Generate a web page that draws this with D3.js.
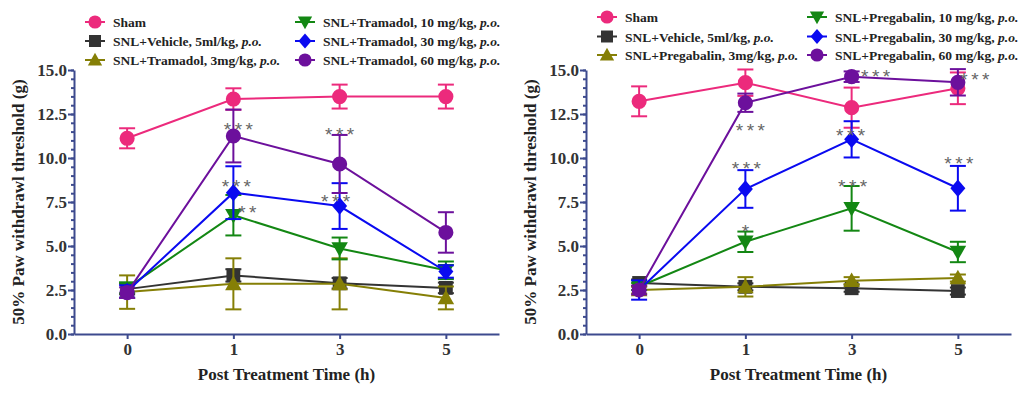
<!DOCTYPE html>
<html>
<head>
<meta charset="utf-8">
<script src="https://cdn.jsdelivr.net/npm/d3@7"></script>
<style>
  body { margin: 0; background: #fff; }
  svg { display: block; }
  .tick text { font-family: "Liberation Serif", "Times New Roman", serif; font-weight: bold; font-size: 17px; fill: #333; }
  .title { font-family: "Liberation Serif", "Times New Roman", serif; font-weight: bold; font-size: 17px; fill: #222; }
  .legend text { font-family: "Liberation Serif", "Times New Roman", serif; font-weight: bold; font-size: 13.5px; fill: #222; }
  .star { font-family: "Liberation Sans", Arial, sans-serif; font-size: 19px; fill: #666; letter-spacing: 3.5px; }
</style>
</head>
<body>
<div id="vis"></div>
<script>

var times = ["0", "1", "3", "5"];
var yTickValues = [0, 2.5, 5, 7.5, 10, 12.5, 15];

// series style per group (sham, vehicle, 3, 10, 30, 60)
var groupColors = ["#ec2a7c", "#333333", "#857f06", "#138713", "#0a0af0", "#6c109c"];
var groupShapes = ["circle", "square", "triUp", "triDown", "diamond", "circle"];

// Tramadol panel
var tramLabels = ["Sham", "SNL+Vehicle, 5ml/kg, ", "SNL+Tramadol, 3mg/kg, ",
  "SNL+Tramadol, 10 mg/kg, ", "SNL+Tramadol, 30 mg/kg, ", "SNL+Tramadol, 60 mg/kg, "];
var tramSham = [11.12, 13.35, 13.49, 13.49];
var tramShamErr = [0.57, 0.61, 0.68, 0.68];
var tramVehicle = [2.55, 3.33, 2.88, 2.62];
var tramVehicleErr = [0.3, 0.35, 0.3, 0.3];
var tram3 = [2.38, 2.85, 2.85, 2.05];
var tram3Err = [0.95, 1.45, 1.45, 0.65];
var tram10 = [2.62, 6.75, 4.86, 3.62];
var tram10Err = [0.3, 1.15, 0.62, 0.5];
var tram30 = [2.42, 8.03, 7.27, 3.55];
var tram30Err = [0.35, 1.5, 1.3, 0.35];
var tram60 = [2.35, 11.25, 9.66, 5.77];
var tram60Err = [0.3, 1.5, 1.65, 1.15];
// significance marks: [time index, value, text, x shift]
var tramStars = [[1, 11.9, "***", 5], [2, 11.6, "***", 0], [1, 8.65, "***", 3],
  [1, 7.16, "**", 14], [2, 7.8, "***", -4]];

// Pregabalin panel
var pregLabels = ["Sham", "SNL+Vehicle, 5ml/kg, ", "SNL+Pregabalin, 3mg/kg, ",
  "SNL+Pregabalin, 10 mg/kg, ", "SNL+Pregabalin, 30 mg/kg, ", "SNL+Pregabalin, 60 mg/kg, "];
var pregSham = [13.22, 14.28, 12.86, 13.96];
var pregShamErr = [0.85, 0.75, 1.14, 0.9];
var pregVehicle = [2.9, 2.68, 2.6, 2.44];
var pregVehicleErr = [0.2, 0.2, 0.2, 0.2];
var preg3 = [2.5, 2.68, 3.03, 3.18];
var preg3Err = [0.2, 0.55, 0.2, 0.2];
var preg10 = [2.7, 5.24, 7.14, 4.66];
var preg10Err = [0.2, 0.58, 1.27, 0.58];
var preg30 = [2.5, 8.24, 11.06, 8.28];
var preg30Err = [0.55, 1.07, 1.03, 1.27];
var preg60 = [2.5, 13.14, 14.62, 14.3];
var preg60Err = [0.25, 0.52, 0.3, 0.75];
var pregStars = [[2, 14.89, "***", 24], [3, 14.72, "***", 17], [1, 11.82, "***", 5],
  [2, 11.53, "***", -1], [1, 9.66, "***", 1], [3, 9.94, "***", 1],
  [2, 8.64, "***", 1], [1, 6.08, "*", 0]];

var axisColor = "#3d4a8e";

function symbolPath(shape, s) {
  if (shape === "circle") return d3.symbol(d3.symbolCircle, s * s * 0.8)();
  if (shape === "square") return d3.symbol(d3.symbolSquare, s * s * 0.85)();
  if (shape === "diamond") return "M0," + (-s * 0.58) + " L" + (s * 0.5) + ",0 L0," + (s * 0.58) + " L" + (-s * 0.5) + ",0 Z";
  if (shape === "triUp") return "M0," + (-s * 0.55) + " L" + (s * 0.55) + "," + (s * 0.42) + " L" + (-s * 0.55) + "," + (s * 0.42) + " Z";
  return "M0," + (s * 0.55) + " L" + (s * 0.55) + "," + (-s * 0.42) + " L" + (-s * 0.55) + "," + (-s * 0.42) + " Z";
}

function drawPanel(svg, p) {
  var x = d3.scaleLinear().domain([-0.5, 3.5]).range([p.left, p.left + 425]);
  var y = d3.scaleLinear().domain([0, 15]).range([334, 70]);
  var g = svg.append("g");

  // legend
  var leg = g.append("g").attr("class", "legend");
  p.labels.forEach(function(lab, i) {
    var col = Math.floor(i / 3), row = i % 3;
    var mx = p.left + 21 + col * 210;
    var my = p.legendY[row];
    var e = leg.append("g").attr("transform", "translate(" + mx + "," + my + ")");
    e.append("line").attr("x1", -10).attr("x2", 10)
      .attr("stroke", groupColors[i]).attr("stroke-width", 2);
    e.append("path").attr("d", symbolPath(groupShapes[i], 13)).attr("fill", groupColors[i]);
    var t = e.append("text").attr("x", 18).attr("y", 5).text(lab);
    if (i > 0) t.append("tspan").style("font-style", "italic").text("p.o.");
  });

  // axes
  var yMinor = d3.axisLeft(y).tickValues(d3.range(0, 15.01, 0.5)).tickSize(3).tickFormat("");
  g.append("g").attr("transform", "translate(" + p.left + ",0)").call(yMinor)
    .call(function(a) { a.select(".domain").remove(); a.selectAll("line").attr("stroke", axisColor).attr("stroke-width", 2); });
  var yAxis = d3.axisLeft(y).tickValues(yTickValues).tickFormat(d3.format(".1f"))
    .tickSize(6).tickSizeOuter(0).tickPadding(1);
  g.append("g").attr("transform", "translate(" + p.left + ",0)").call(yAxis)
    .call(function(a) {
      a.select(".domain").attr("stroke", axisColor).attr("stroke-width", 2);
      a.selectAll("line").attr("stroke", axisColor).attr("stroke-width", 2);
    });
  var xAxis = d3.axisBottom(x).tickValues([0, 1, 2, 3]).tickFormat(function(i) { return times[i]; })
    .tickSize(5).tickSizeOuter(0).tickPadding(4);
  g.append("g").attr("transform", "translate(0,334)").call(xAxis)
    .call(function(a) {
      a.select(".domain").attr("stroke", axisColor).attr("stroke-width", 2);
      a.selectAll("line").attr("stroke", axisColor).attr("stroke-width", 2);
    });

  g.append("text").attr("class", "title").attr("text-anchor", "middle")
    .attr("x", p.left + 212.5).attr("y", 380).text("Post Treatment Time (h)");
  g.append("text").attr("class", "title").attr("text-anchor", "middle")
    .attr("transform", "translate(" + (p.left - 50) + ",202) rotate(-90)")
    .text("50% Paw withdrawl threshold (g)");

  // series
  var line = d3.line().x(function(d, i) { return x(i); }).y(function(d) { return y(d); });
  p.means.forEach(function(m, k) {
    var c = groupColors[k];
    var s = g.append("g");
    s.append("path").datum(m).attr("d", line).attr("fill", "none")
      .attr("stroke", c).attr("stroke-width", 2);
    m.forEach(function(v, i) {
      var e = p.errs[k][i];
      s.append("line").attr("x1", x(i)).attr("x2", x(i)).attr("y1", y(v - e)).attr("y2", y(v + e))
        .attr("stroke", c).attr("stroke-width", 2);
      [v - e, v + e].forEach(function(b) {
        s.append("line").attr("x1", x(i) - 8).attr("x2", x(i) + 8).attr("y1", y(b)).attr("y2", y(b))
          .attr("stroke", c).attr("stroke-width", 2);
      });
    });
    s.selectAll(".pt").data(m).enter().append("path")
      .attr("transform", function(d, i) { return "translate(" + x(i) + "," + y(d) + ")"; })
      .attr("d", symbolPath(groupShapes[k], 15)).attr("fill", c);
  });

  g.selectAll(".star").data(p.stars).enter().append("text")
    .attr("class", "star").attr("text-anchor", "middle")
    .attr("x", function(d) { return x(d[0]) + d[3] + 1.75; })
    .attr("y", function(d) { return y(d[1]) + 11; })
    .text(function(d) { return d[2]; });
}

var svg = d3.select("#vis").append("svg").attr("width", 1024).attr("height", 393);

drawPanel(svg, {
  left: 74, legendY: [22, 41, 60], labels: tramLabels,
  means: [tramSham, tramVehicle, tram3, tram10, tram30, tram60],
  errs: [tramShamErr, tramVehicleErr, tram3Err, tram10Err, tram30Err, tram60Err],
  stars: tramStars
});
drawPanel(svg, {
  left: 586, legendY: [17, 36.5, 55], labels: pregLabels,
  means: [pregSham, pregVehicle, preg3, preg10, preg30, preg60],
  errs: [pregShamErr, pregVehicleErr, preg3Err, preg10Err, preg30Err, preg60Err],
  stars: pregStars
});

</script>
</body>
</html>
